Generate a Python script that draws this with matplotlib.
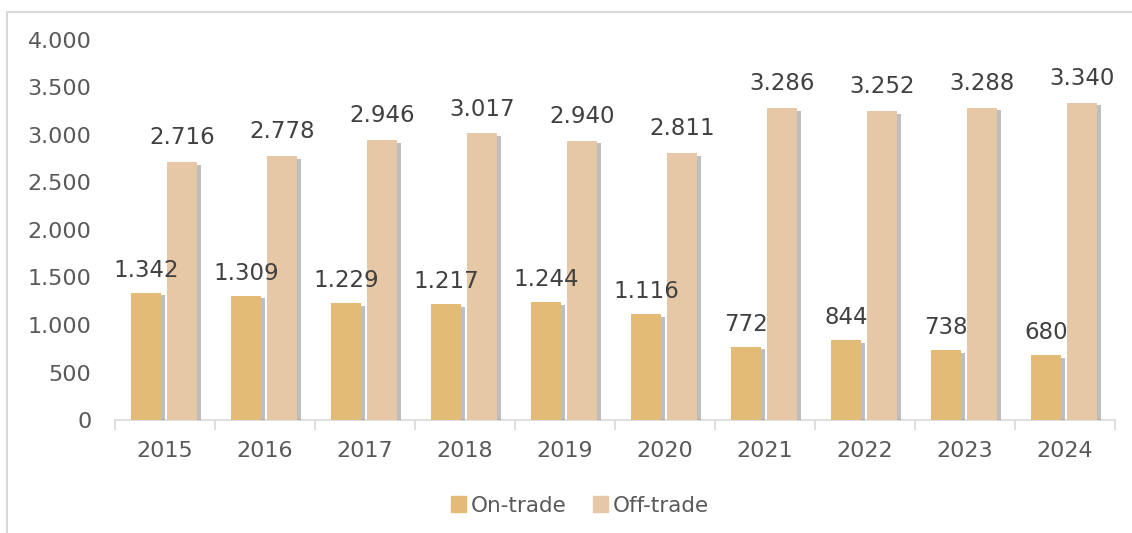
import numpy as np
import matplotlib.pyplot as plt
import matplotlib.patheffects as pe
from matplotlib.patches import Rectangle, Patch

years = ['2015', '2016', '2017', '2018', '2019', '2020', '2021', '2022', '2023', '2024']
on_trade = [1342, 1309, 1229, 1217, 1244, 1116, 772, 844, 738, 680]
off_trade = [2716, 2778, 2946, 3017, 2940, 2811, 3286, 3252, 3288, 3340]

def fmt(v):
    # thousands separator as dot
    return '{:,}'.format(v).replace(',', '.')

fig = plt.figure(figsize=(11.32, 5.33), dpi=100)
ax = fig.add_axes([0.1016, 0.212, 0.8834, 0.713])

# outer frame (only top and left visible in the original)
fig.patches.append(Rectangle((7 / 1132, -0.1), 1.2, 1 - 12 / 533 + 0.1, transform=fig.transFigure,
                             fill=False, edgecolor='#D9D9D9', linewidth=1.5))

on_col = '#E4BB76'
off_col = '#E6C8A6'
x = np.arange(len(years))
w = 0.3
shadow = [pe.SimplePatchShadow(offset=(3, -2), shadow_rgbFace='#6f6f6f', alpha=0.45), pe.Normal()]

b1 = ax.bar(x - 0.19, on_trade, w, color=on_col, zorder=3)
b2 = ax.bar(x + 0.17, off_trade, w, color=off_col, zorder=3)
for b in list(b1) + list(b2):
    b.set_path_effects(shadow)

for xi, v in zip(x, on_trade):
    ax.text(xi - 0.19, v + 115, fmt(v), ha='center', va='bottom', fontsize=16.5, color='#404040')
for xi, v in zip(x, off_trade):
    ax.text(xi + 0.17, v + 135, fmt(v), ha='center', va='bottom', fontsize=16.5, color='#404040')

ax.set_ylim(0, 4000)
ax.set_xlim(-0.5, len(years) - 0.5)
ax.set_yticks(range(0, 4001, 500))
ax.set_yticklabels([fmt(v) for v in range(0, 4001, 500)])
ax.set_xticks(x)
ax.set_xticklabels(years)
ax.set_xticks(np.arange(-0.5, len(years)), minor=True)
ax.tick_params(axis='x', which='major', length=0, pad=15, labelsize=16, labelcolor='#595959')
ax.tick_params(axis='x', which='minor', length=7, color='#D9D9D9', width=1.2)
ax.tick_params(axis='y', length=0, pad=17, labelsize=16, labelcolor='#595959')

for s in ['top', 'right', 'left']:
    ax.spines[s].set_visible(False)
ax.spines['bottom'].set_color('#D9D9D9')
ax.spines['bottom'].set_linewidth(1.2)

handles = [Patch(color=on_col, label='On-trade'), Patch(color=off_col, label='Off-trade')]
ax.legend(handles=handles, loc='center', bbox_to_anchor=(0.465, -0.225), ncol=2, frameon=False, fontsize=15.5,
          labelcolor='#595959', handlelength=0.7, handleheight=0.7, handletextpad=0.25, columnspacing=1.2)

plt.savefig('out.png', dpi=100)
